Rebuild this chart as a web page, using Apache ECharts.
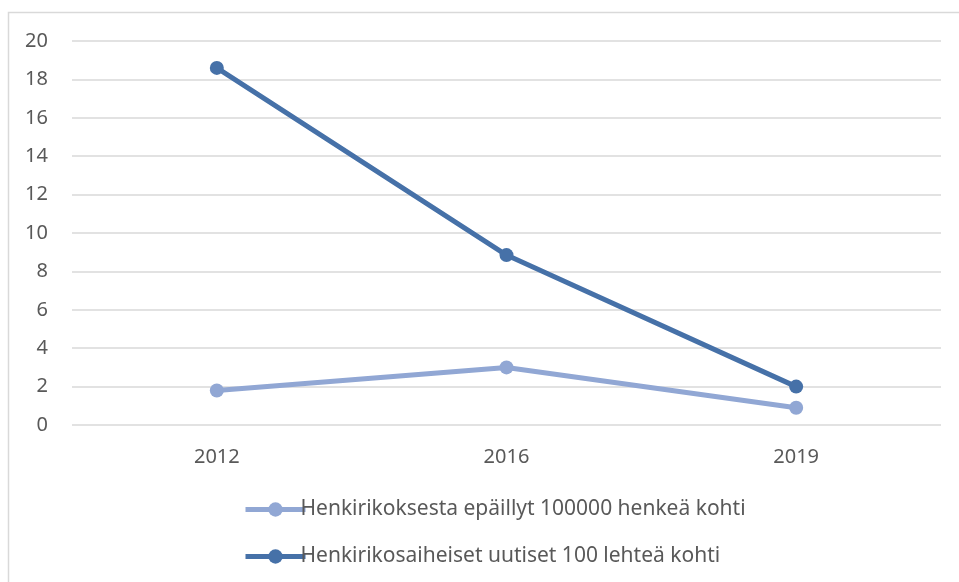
<!DOCTYPE html>
<html>
<head>
<meta charset="utf-8">
<script src="https://cdn.jsdelivr.net/npm/echarts@6/dist/echarts.min.js"></script>
<style>
  html, body { margin: 0; padding: 0; background: #fff; }
  #chart { width: 959px; height: 582px; }
</style>
</head>
<body>
<div id="chart"></div>
<script>
// vuodet ja sarjat
var years = ['2012', '2016', '2019'];
var epaillyt = [1.8, 3.0, 0.9];     // Henkirikoksesta epäillyt 100000 henkeä kohti
var uutiset = [18.6, 8.85, 2.0];    // Henkirikosaiheiset uutiset 100 lehteä kohti
var seriesNames = [
  'Henkirikoksesta epäillyt 100000 henkeä kohti',
  'Henkirikosaiheiset uutiset 100 lehteä kohti'
];

var lightBlue = '#91a7d4';
var darkBlue = '#4671a8';
var textColor = '#595959';
var font = 'Noto Sans';

var myChart = echarts.init(document.getElementById('chart'));

var option = {
  backgroundColor: '#fff',
  animation: false,
  textStyle: { fontFamily: font },
  graphic: [{
    type: 'rect',
    shape: { x: 8.5, y: 12.5, width: 1000, height: 1000 },
    style: { fill: 'none', stroke: '#d9d9d9', lineWidth: 1.5 },
    silent: true
  }],
  grid: { left: 72, right: 18, top: 41, bottom: 157, containLabel: false },
  legend: {
    orient: 'vertical',
    left: 238,
    top: 494,
    itemWidth: 60,
    itemHeight: 18,
    itemGap: 26,
    lineStyle: { width: 5 },
    textStyle: { color: textColor, fontSize: 21, fontFamily: font, padding: [0, 0, 0, -10] },
    data: seriesNames
  },
  xAxis: {
    type: 'category',
    data: years,
    boundaryGap: true,
    axisLine: { show: false },
    axisTick: { show: false },
    axisLabel: { color: textColor, fontSize: 20, margin: 22, fontFamily: font }
  },
  yAxis: {
    type: 'value',
    min: 0,
    max: 20,
    interval: 2,
    axisLine: { show: false },
    axisTick: { show: false },
    axisLabel: { color: textColor, fontSize: 20, margin: 24, fontFamily: font },
    splitLine: { lineStyle: { color: '#d9d9d9', width: 1.5 } }
  },
  series: [
    {
      name: seriesNames[0],
      type: 'line',
      data: epaillyt,
      color: lightBlue,
      symbol: 'circle',
      symbolSize: 14,
      lineStyle: { width: 5, color: lightBlue },
      itemStyle: { color: lightBlue }
    },
    {
      name: seriesNames[1],
      type: 'line',
      data: uutiset,
      color: darkBlue,
      symbol: 'circle',
      symbolSize: 14,
      lineStyle: { width: 5, color: darkBlue },
      itemStyle: { color: darkBlue }
    }
  ]
};

myChart.setOption(option);
</script>
</body>
</html>
